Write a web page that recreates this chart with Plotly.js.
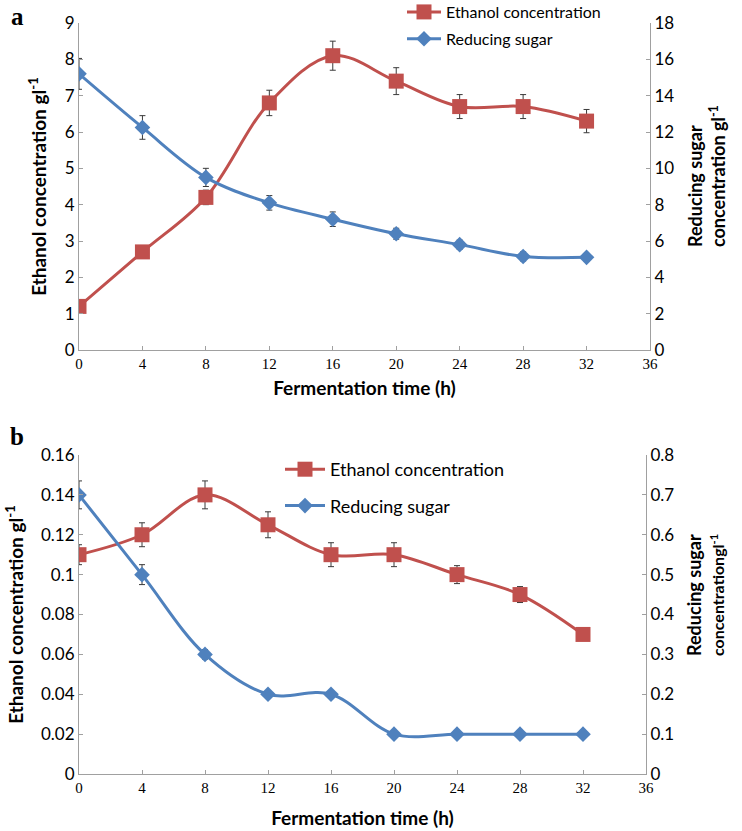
<!DOCTYPE html>
<html>
<head>
<meta charset="utf-8">
<script src="https://cdn.plot.ly/plotly-3.0.1.min.js"></script>
<style>html,body{margin:0;padding:0;background:#fff}#chart{width:742px;height:831px}</style>
</head>
<body>
<div id="chart"></div>
<script>
// ---- data ----
const timeA = [0, 4, 8, 12, 16, 20, 24, 28, 32];
const ethanolA = [1.2, 2.7, 4.2, 6.8, 8.1, 7.4, 6.7, 6.7, 6.3];
const ethanolAErr = [0.1, 0.1, 0.2, 0.35, 0.4, 0.37, 0.33, 0.33, 0.32];
const sugarA = [15.2, 12.25, 9.5, 8.1, 7.2, 6.4, 5.8, 5.15, 5.1];
const sugarAErr = [0.85, 0.65, 0.5, 0.4, 0.4, 0.3, 0.25, 0.25, 0.2];

const timeB = [0, 4, 8, 12, 16, 20, 24, 28, 32];
const ethanolB = [0.11, 0.12, 0.14, 0.125, 0.11, 0.11, 0.10, 0.09, 0.07];
const ethanolBErr = [0.005, 0.006, 0.007, 0.0065, 0.006, 0.006, 0.0045, 0.004, 0];
const sugarB = [0.7, 0.5, 0.3, 0.2, 0.2, 0.1, 0.1, 0.1, 0.1];
const sugarBErr = [0.035, 0.025, 0.012, 0, 0, 0, 0, 0, 0];

const xTicks = [0, 4, 8, 12, 16, 20, 24, 28, 32, 36];
const yTicksA = [0, 1, 2, 3, 4, 5, 6, 7, 8, 9];
const y2TicksA = [0, 2, 4, 6, 8, 10, 12, 14, 16, 18];
const yTicksB = [0, 0.02, 0.04, 0.06, 0.08, 0.1, 0.12, 0.14, 0.16];
const yTicksBText = ['0', '0.02', '0.04', '0.06', '0.08', '0.1', '0.12', '0.14', '0.16'];
const y2TicksB = [0, 0.1, 0.2, 0.3, 0.4, 0.5, 0.6, 0.7, 0.8];
const y2TicksBText = ['0', '0.1', '0.2', '0.3', '0.4', '0.5', '0.6', '0.7', '0.8'];

const nameEthanol = 'Ethanol concentration';
const nameSugar = 'Reducing sugar';

// ---- styles ----
const RED = '#C0504D', BLUE = '#4F81BD', AX = '#A0A0A0';
const W = 742, H = 831;
const px = v => v / W, py = v => 1 - v / H;
const errStyle = {type: 'data', visible: true, color: '#3a3a3a', thickness: 1, width: 3};
const sans = 'Lato, "Open Sans", sans-serif';

function lineTrace(x, y, err, name, color, symbol, size, xa, ya, legend, group) {
  return {
    type: 'scatter', mode: 'lines+markers', x: x, y: y, name: name,
    xaxis: xa, yaxis: ya, legend: legend, legendgroup: group,
    line: {color: color, width: 3, shape: 'spline', smoothing: 1},
    marker: {color: color, symbol: symbol, size: size},
    error_y: Object.assign({array: err}, errStyle)
  };
}

const traces = [
  lineTrace(timeA, ethanolA, ethanolAErr, nameEthanol, RED, 'square', 15, 'x', 'y', 'legend', 'ea'),
  lineTrace(timeA, sugarA, sugarAErr, nameSugar, BLUE, 'diamond', 12, 'x', 'y2', 'legend', 'sa'),
  lineTrace(timeB, ethanolB, ethanolBErr, nameEthanol, RED, 'square', 15, 'x2', 'y3', 'legend2', 'eb'),
  lineTrace(timeB, sugarB, sugarBErr, nameSugar, BLUE, 'diamond', 12, 'x2', 'y4', 'legend2', 'sb')
];

function xAxis(domain, anchor, standoff) {
  return {
    domain: domain, anchor: anchor, range: [0, 36], tickmode: 'array', tickvals: xTicks,
    ticks: 'inside', ticklen: 4, tickcolor: AX, showline: true, linecolor: AX, linewidth: 1,
    showgrid: false, zeroline: false, fixedrange: true, automargin: false,
    tickfont: {family: '"Liberation Serif", serif', size: 15, color: '#000'},
    title: {text: 'Fermentation time (h)', font: {family: sans, size: 19, color: '#000', weight: 'bold'}, standoff: standoff}
  };
}
function yLeft(domain, anchor, range, vals, text, title, standoff) {
  return {
    domain: domain, anchor: anchor, range: range, tickmode: 'array', tickvals: vals, ticktext: text,
    ticks: 'inside', ticklen: 4, tickcolor: AX, showline: true, linecolor: AX, linewidth: 1,
    showgrid: false, zeroline: false, fixedrange: true, automargin: false,
    tickfont: {family: sans, size: 17, color: '#000'},
    title: {text: title, font: {family: sans, size: 19, color: '#000', weight: 'bold'}, standoff: standoff}
  };
}
function yRight(overlay, anchor, range, vals, text) {
  return {
    overlaying: overlay, side: 'right', anchor: anchor, range: range, tickmode: 'array', tickvals: vals, ticktext: text,
    ticks: 'inside', ticklen: 4, tickcolor: AX, showline: true, linecolor: AX, linewidth: 1,
    showgrid: false, zeroline: false, fixedrange: true, automargin: false,
    tickfont: {family: sans, size: 17, color: '#000'}
  };
}

const layout = {
  width: W, height: H, margin: {l: 0, r: 0, t: 0, b: 0, autoexpand: false},
  paper_bgcolor: '#fff', plot_bgcolor: 'rgba(0,0,0,0)', showlegend: true,
  xaxis: xAxis([px(79), px(650)], 'y', 10),
  yaxis: yLeft([py(350), py(23)], 'x', [0, 9], yTicksA, yTicksA.map(String), 'Ethanol concentration gl<sup>-1</sup>', 13),
  yaxis2: yRight('y', 'x', [0, 18], y2TicksA, y2TicksA.map(String)),
  xaxis2: xAxis([px(79), px(646)], 'y3', 16),
  yaxis3: yLeft([py(774), py(455)], 'x2', [0, 0.16], yTicksB, yTicksBText, 'Ethanol concentration gl<sup>-1</sup>', 12),
  yaxis4: yRight('y3', 'x2', [0, 0.8], y2TicksB, y2TicksBText),
  legend: {x: px(402), y: 1.006, xanchor: 'left', yanchor: 'top', bgcolor: 'rgba(0,0,0,0)',
           font: {family: sans, size: 16, color: '#000'}, traceorder: 'grouped', tracegroupgap: 3, itemwidth: 34},
  legend2: {x: px(280), y: py(451), xanchor: 'left', yanchor: 'top', bgcolor: 'rgba(0,0,0,0)',
            font: {family: sans, size: 18, color: '#000'}, traceorder: 'grouped', tracegroupgap: 10, itemwidth: 40},
  annotations: [
    {text: 'a', xref: 'paper', yref: 'paper', x: px(17), y: py(16), xanchor: 'center', yanchor: 'middle', showarrow: false,
     font: {family: '"Liberation Serif", serif', size: 25, color: '#000', weight: 'bold'}},
    {text: 'b', xref: 'paper', yref: 'paper', x: px(17), y: py(436), xanchor: 'center', yanchor: 'middle', showarrow: false,
     font: {family: '"Liberation Serif", serif', size: 25, color: '#000', weight: 'bold'}},
    {text: 'Reducing sugar<br>concentration gl<sup>-1</sup>', xref: 'paper', yref: 'paper',
     x: px(706), y: py(176), xanchor: 'center', yanchor: 'middle', showarrow: false, textangle: -90, align: 'left',
     font: {family: sans, size: 18, color: '#000', weight: 'bold'}},
    {text: 'Reducing sugar<br><span style="font-size:16px">concentrationgl<sup>-1</sup></span>', xref: 'paper', yref: 'paper',
     x: px(705), y: py(595), xanchor: 'center', yanchor: 'middle', showarrow: false, textangle: -90, align: 'left',
     font: {family: sans, size: 18, color: '#000', weight: 'bold'}}
  ]
};

Plotly.newPlot('chart', traces, layout, {displayModeBar: false, staticPlot: true});
</script>
</body>
</html>
